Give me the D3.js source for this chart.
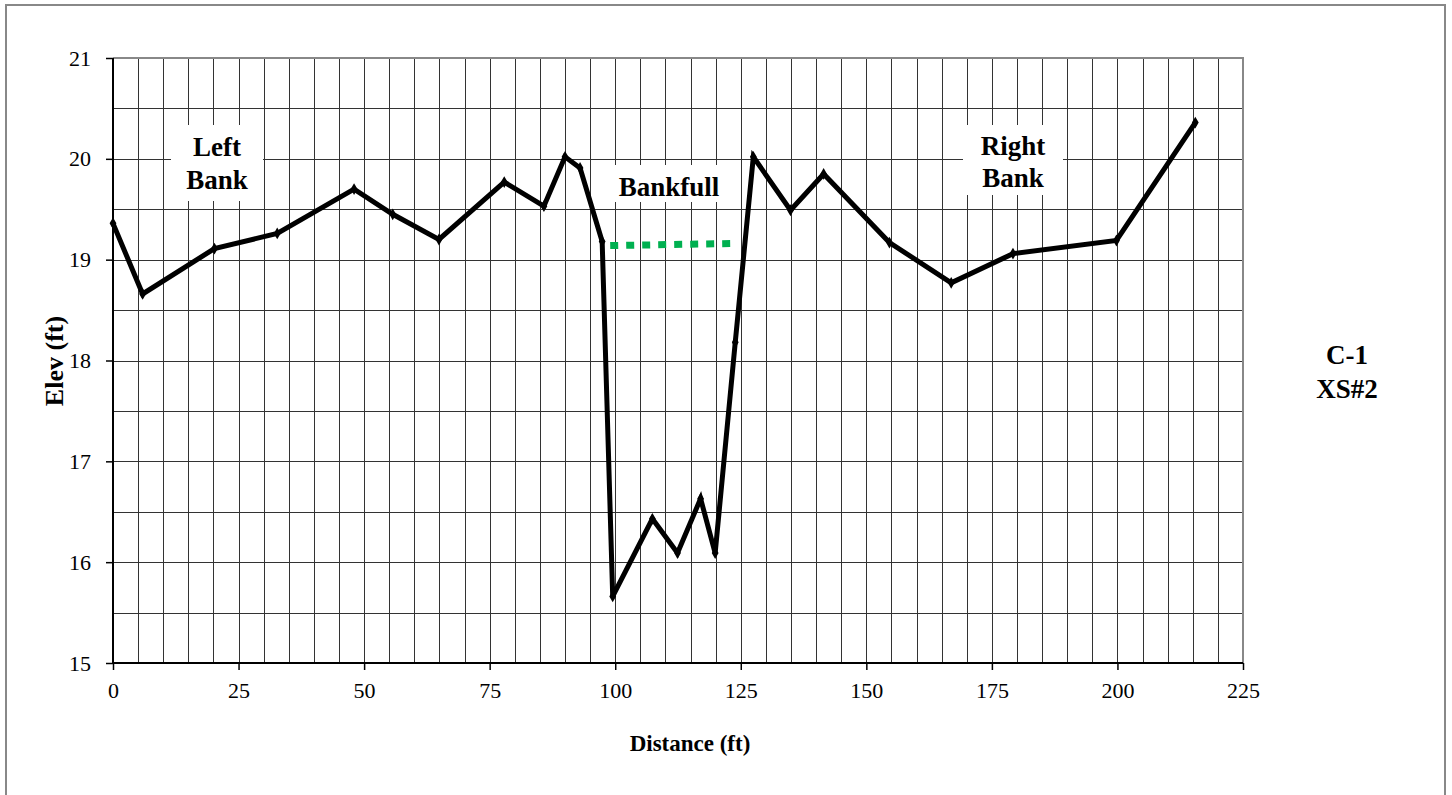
<!DOCTYPE html>
<html><head><meta charset="utf-8">
<script src="https://cdn.jsdelivr.net/npm/d3@7"></script>
<style>body{margin:0;background:#fff}svg{display:block}svg text{font-family:'Liberation Serif','Times New Roman',Times,serif !important}</style>
</head><body>
<svg id="c" width="1452" height="795" style="font-family:'Liberation Serif',serif"></svg>
<script>
const distance = [0, 5.9, 20.2, 32.7, 48.0, 55.7, 64.9, 77.9, 85.8, 90.0, 93.0, 97.4, 99.5, 107.4, 112.4, 117.0, 119.9, 123.9, 127.5, 134.9, 141.5, 154.6, 166.9, 179.2, 199.8, 215.5];
const elevation = [19.36, 18.66, 19.11, 19.26, 19.70, 19.45, 19.20, 19.77, 19.53, 20.02, 19.91, 19.18, 15.66, 16.43, 16.09, 16.63, 16.09, 18.18, 20.02, 19.49, 19.85, 19.17, 18.77, 19.06, 19.19, 20.36];
const bankfullDistance = [99.0, 122.9];
const bankfullElev = [19.14, 19.16];
const xTicks = [0, 25, 50, 75, 100, 125, 150, 175, 200, 225];
const yTicks = [15, 16, 17, 18, 19, 20, 21];

const FONT = "'Liberation Serif', 'Times New Roman', serif";
const svg = d3.select("#c");
const L = 113, R = 1243, T = 58, B = 663;
const x = d3.scaleLinear().domain([0, 225]).range([L, R]);
const y = d3.scaleLinear().domain([15, 21]).range([B, T]);

svg.append("rect").attr("x", 6).attr("y", 5).attr("width", 1439).attr("height", 820)
  .attr("fill", "none").attr("stroke", "#888").attr("stroke-width", 2);

const g = svg.append("g");
g.selectAll("line.vg").data(d3.range(5, 225, 5)).join("line")
  .attr("x1", d => Math.round(x(d)) + 0.5).attr("x2", d => Math.round(x(d)) + 0.5)
  .attr("y1", T).attr("y2", B).attr("stroke", "#333").attr("stroke-width", 1);
g.selectAll("line.hg").data(d3.range(15.5, 21, 0.5)).join("line")
  .attr("y1", d => Math.round(y(d)) + 0.5).attr("y2", d => Math.round(y(d)) + 0.5)
  .attr("x1", L).attr("x2", R).attr("stroke", "#333").attr("stroke-width", 1);
svg.append("path").attr("d", `M${L},${T}H${R}V${B}`).attr("fill", "none").attr("stroke", "#888").attr("stroke-width", 2);

const xAxis = d3.axisBottom(x).tickValues(xTicks).tickSize(7).tickPadding(12).tickFormat(d3.format("d"));
const yAxis = d3.axisLeft(y).tickValues(yTicks).tickSize(7).tickPadding(15).tickFormat(d3.format("d"));
const gx = svg.append("g").attr("transform", `translate(0,${B})`).call(xAxis);
const gy = svg.append("g").attr("transform", `translate(${L},0)`).call(yAxis);
[gx, gy].forEach(a => {
  a.attr("font-family", FONT).attr("font-size", 22);
  a.select(".domain").attr("stroke", "#000").attr("stroke-width", 2);
  a.selectAll(".tick line").attr("stroke", "#000").attr("stroke-width", 1.5);
  a.selectAll("text").style("font-family", FONT).style("font-size", "22px").attr("fill", "#000");
});
gx.select(".domain").attr("d", `M${L},0H${R}`);
gy.select(".domain").attr("d", `M0,${T}V${B}`);

function txt(xp, yp, t, size) {
  return svg.append("text").attr("x", xp).attr("y", yp).attr("text-anchor", "middle")
    .style("font-family", FONT).style("font-weight", "bold").style("font-size", size + "px").text(t);
}
function label(cx, lines, y0, gap, bw, bh, by) {
  svg.append("rect").attr("x", cx - bw / 2).attr("y", by).attr("width", bw).attr("height", bh).attr("fill", "#fff");
  lines.forEach((t, i) => txt(cx, y0 + i * gap, t, 27));
}
label(217, ["Left", "Bank"], 156, 33, 92, 76, 125);
label(1013, ["Right", "Bank"], 155, 32, 100, 70, 125);
label(669, ["Bankfull"], 196, 0, 126, 37, 165);

const pts = distance.map((d, i) => [d, elevation[i]]);
const line = d3.line().x(d => x(d[0])).y(d => y(d[1]));
svg.append("path").datum(bankfullDistance.map((d, i) => [d, bankfullElev[i]])).attr("d", line)
  .attr("fill", "none").attr("stroke", "#00b050").attr("stroke-width", 7).attr("stroke-dasharray", "8,8");

svg.append("path").datum(pts).attr("d", line).attr("fill", "none").attr("stroke", "#000")
  .attr("stroke-width", 5).attr("stroke-linejoin", "miter");
svg.selectAll("path.mk").data(pts).join("path")
  .attr("transform", d => `translate(${x(d[0])},${y(d[1])})`)
  .attr("d", d3.symbol(d3.symbolDiamond, 40)).attr("fill", "#000");

txt(690, 751, "Distance (ft)", 23);
svg.append("text").attr("transform", "translate(54,361) rotate(-90)").attr("text-anchor", "middle")
  .attr("dy", "0.35em").style("font-family", FONT).style("font-weight", "bold").style("font-size", "26px").text("Elev (ft)");
txt(1347, 364, "C-1", 27);
txt(1347, 398, "XS#2", 27);
</script>
</body></html>
